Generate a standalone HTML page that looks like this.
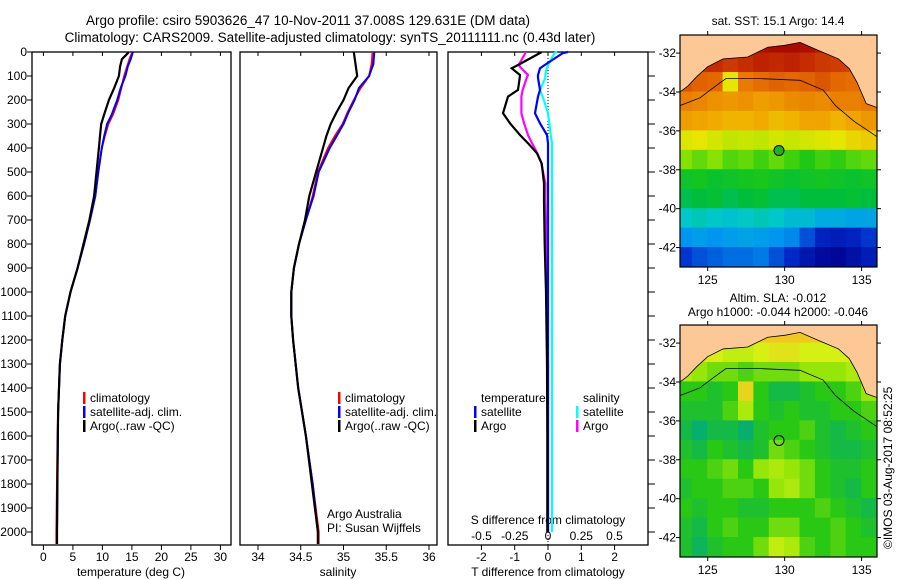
<!DOCTYPE html>
<html><head><meta charset="utf-8"><style>
body{margin:0;background:#fff}
svg{display:block;font-family:"Liberation Sans",sans-serif}
text{font-size:12px;fill:#000}
</style></head><body>
<svg id="fig" width="900" height="580" viewBox="0 0 900 580">
<text x="308" y="25" text-anchor="middle" style="font-size:13.5px">Argo profile: csiro 5903626_47 10-Nov-2011 37.008S 129.631E (DM data)</text>
<text x="330" y="42" text-anchor="middle" style="font-size:13.5px">Climatology: CARS2009. Satellite-adjusted climatology: synTS_20111111.nc (0.43d later)</text>
<text x="778" y="25" text-anchor="middle">sat. SST: 15.1  Argo: 14.4</text>
<text x="778" y="302" text-anchor="middle">Altim. SLA: -0.012</text>
<text x="778" y="316" text-anchor="middle">Argo h1000: -0.044 h2000: -0.046</text>
<text transform="translate(892,549) rotate(-90)">©IMOS 03-Aug-2017 08:52:25</text>
<g id="g"></g>
</svg>
<script>
// ---- data ----
const depthT = [0,5,30,60,100,150,200,260,300,350,400,500,600,700,800,900,1000,1100,1200,1300,1500,1700,2000,2050];
const tempClim = [15.0,15.0,14.6,14.2,13.7,13.2,12.7,11.8,11.0,10.4,9.9,9.3,8.8,7.9,6.9,5.8,4.6,3.7,3.2,2.8,2.5,2.35,2.2,2.2];
const tempSat  = [15.2,15.1,14.8,14.3,13.9,13.1,12.5,11.6,10.8,10.3,9.9,9.3,8.8,7.9,6.9,5.8,4.6,3.7,3.2,2.8,2.5,2.4,2.3,2.3];
const tempArgo = [14.4,14.3,13.3,13.0,12.8,12.0,11.1,10.3,9.8,9.6,9.4,9.0,8.6,7.8,6.8,5.8,4.6,3.7,3.2,2.8,2.5,2.4,2.3,2.3];
const depthS = [0,50,100,150,200,250,300,350,400,500,600,700,800,900,1000,1100,1200,1400,1600,1800,2000,2050];
const salClim = [35.34,35.33,35.30,35.20,35.12,35.05,34.99,34.90,34.82,34.70,34.64,34.56,34.48,34.42,34.39,34.39,34.41,34.47,34.56,34.64,34.71,34.71];
const salSat  = [35.36,35.35,35.30,35.18,35.13,35.06,35.00,34.92,34.84,34.71,34.65,34.56,34.48,34.42,34.39,34.39,34.41,34.47,34.56,34.64,34.70,34.70];
const salArgo = [35.12,35.14,35.16,35.06,35.00,34.92,34.85,34.80,34.76,34.68,34.60,34.55,34.48,34.42,34.39,34.39,34.41,34.47,34.56,34.63,34.70,34.70];
const depthD = [0,4,54,68,96,108,158,186,255,297,346,380,422,464,547,616,800,1000,1300,1600,2000];
const dTArgo = [-0.3,-0.24,-0.9,-1.09,-0.84,-0.85,-0.9,-1.2,-1.35,-1.14,-0.84,-0.6,-0.33,-0.19,-0.12,-0.12,-0.1,-0.06,-0.03,-0.02,-0.02];
const dTSat  = [0.6,0.45,-0.1,-0.24,-0.3,-0.3,-0.24,-0.3,-0.39,-0.24,-0.03,0,0,0,0,0,0,0,0,0,0];
const dSArgo = [-0.17,-0.17,-0.22,-0.2,-0.15,-0.16,-0.19,-0.2,-0.2,-0.18,-0.15,-0.12,-0.08,-0.05,-0.02,-0.02,-0.01,-0.01,0,0,0];
const dSSat  = [0.07,0.05,0.0,-0.01,-0.02,-0.02,-0.06,-0.04,0,0.01,0.02,0.03,0.03,0.03,0.03,0.03,0.03,0.03,0.03,0.03,0.03];
const depthTicks = [0,100,200,300,400,500,600,700,800,900,1000,1100,1200,1300,1400,1500,1600,1700,1800,1900,2000];
const tempTicks = [0,5,10,15,20,25,30];
const salTicks = [34,34.5,35,35.5,36];
const tdTicks = [-2,-1,0,1,2];
const sdTicks = [-0.5,-0.25,0,0.25,0.5];
const latTicks = [-32,-34,-36,-38,-40,-42];
const lonTicks = [125,130,135];
// SST grid: rows lat -31..-43 (1 deg), cols lon 123..136
const sstGrid = [
[19,19,19,19,19,19.2,19.3,19.4,19.2,19,19,18.8,18.8],
[18.4,18.5,18.6,18.4,18.6,18.8,18.7,18.8,18.6,18.4,18.3,18.2,18.2],
[17.9,17.7,17.6,15.8,17.3,17.5,17.7,17.6,17.7,17.9,17.6,17.5,17.5],
[17.2,17.1,16.9,16.8,16.9,16.7,16.8,17.0,17.1,17.0,17.2,17.2,17.3],
[16.7,16.6,16.5,16.4,16.4,16.5,16.3,16.4,16.6,16.6,16.4,16.6,16.8],
[15.7,15.8,15.6,15.4,15.5,15.4,15.6,15.5,15.6,15.7,15.8,16.0,16.1],
[14.9,14.7,14.9,14.6,14.7,14.5,14.7,14.5,14.3,14.5,14.4,14.6,14.7],
[14.0,14.1,13.9,14.0,14.1,14.2,14.0,13.9,14.0,14.1,14.0,13.9,14.0],
[13.6,13.7,13.8,13.6,13.7,13.8,13.6,13.6,13.7,13.7,13.7,13.8,13.7],
[13.0,13.1,13.0,12.9,13.0,13.1,13.0,12.8,12.8,12.6,12.6,12.5,12.5],
[12.3,12.4,12.3,12.4,12.5,12.4,12.3,12.2,11.8,11.4,11.3,11.4,11.6],
[11.6,11.8,11.9,12.0,12.0,12.1,11.8,11.5,11.2,11.0,10.9,11.1,11.3]];
// SLA grid (m)
const slaGrid = [
[0.1,0.1,0.1,0.1,0.1,0.1,0.1,0.1,0.1,0.1,0.1,0.1,0.1],
[0.06,0.07,0.06,0.05,0.05,0.06,0.07,0.07,0.06,0.06,0.06,0.06,0.06],
[0.04,0.03,0.02,0.02,0.01,0.02,0.02,0.02,0.03,0.03,0.03,0.04,0.05],
[0.0,0.0,-0.01,0.0,0.08,0.0,-0.02,-0.02,-0.01,0.0,0.0,0.01,0.03],
[-0.01,-0.01,-0.01,0.01,0.04,0.0,-0.01,0.0,-0.01,-0.01,0.0,0.0,0.01],
[-0.02,-0.04,-0.02,-0.02,-0.04,-0.01,0.0,0.0,0.01,-0.01,-0.02,-0.01,0.0],
[-0.01,-0.02,0.0,-0.01,-0.02,-0.01,0.02,0.01,0.0,-0.01,-0.02,-0.02,-0.01],
[0.0,0.0,0.01,0.02,0.0,0.03,0.04,0.03,0.02,0.0,-0.01,-0.01,0.0],
[-0.01,0.0,0.0,0.01,0.01,0.0,0.03,0.04,0.02,0.0,-0.01,-0.02,0.0],
[0.0,-0.01,0.0,0.0,-0.01,-0.01,0.0,0.0,0.0,0.01,0.0,-0.01,-0.02],
[-0.01,-0.02,0.0,0.01,0.0,0.0,0.02,0.02,0.0,0.0,0.01,0.0,-0.01],
[-0.01,-0.03,-0.01,0.0,0.0,0.02,0.05,0.04,0.01,0.0,0.01,0.0,0.0]];
const coast = [[123.2,-34.0],[123.7,-33.7],[124.3,-33.2],[125,-32.7],[126,-32.3],[127.6,-32.2],[128.9,-31.7],[130,-31.6],[131,-31.45],[132.3,-31.9],[133.5,-32.3],[134.2,-32.8],[134.7,-33.5],[135.3,-34.6],[136,-34.8]];
const contour = [[123.2,-34.7],[124.5,-34.3],[125.5,-33.7],[126.2,-33.3],[128,-33.3],[131,-33.4],[132.5,-33.9],[133.3,-34.7],[134.5,-35.5],[136,-36.3]];
const argoPos = [129.631,-37.008];

// ---- drawing ----
const NS='http://www.w3.org/2000/svg';
const G=document.getElementById('g');
function mk(tag,attrs,parent){const e=document.createElementNS(NS,tag);for(const k in attrs)e.setAttribute(k,attrs[k]);(parent||G).appendChild(e);return e;}
const Y0=52, PY=0.24;
const yD=d=>Y0+d*PY;
const xT=v=>43.4+v*5.9;
const xS=v=>258+(v-34)*85.5;
const xTD=v=>548+v*33.3;
const xSD=v=>548+v*133;
function line(xs,ds,fx,color,w,name){
  const pts=xs.map((v,i)=>fx(v).toFixed(1)+','+yD(ds[i]).toFixed(1)).join(' ');
  const p=mk('polyline',{points:pts,fill:'none',stroke:color,'stroke-width':w,'stroke-linejoin':'miter'});
  
  
}
function panel(x,w,name){
  const r=mk('rect',{x:x,y:Y0,width:w,height:493,fill:'none',stroke:'#000','stroke-width':1.3});
  
  
}
function txt(x,y,s,anchor,name){
  const t=mk('text',{x:x,y:y,'text-anchor':anchor||'start'});t.textContent=s;
  
  
  return t;
}
panel(32,199,'temperature-panel');panel(240,197,'salinity-panel');panel(448,200,'difference-panel');
depthTicks.forEach(d=>{
  mk('line',{x1:27,x2:32,y1:yD(d),y2:yD(d),stroke:'#000'});
  mk('line',{x1:648,x2:655,y1:yD(d),y2:yD(d),stroke:'#000'});
  txt(27,yD(d)+4,String(d),'end','depth-tick-label');
});
tempTicks.forEach(v=>{mk('line',{x1:xT(v),x2:xT(v),y1:545,y2:550,stroke:'#000'});mk('line',{x1:xT(v),x2:xT(v),y1:52,y2:56,stroke:'#000'});txt(xT(v),561,String(v),'middle','temp-tick-label');});
salTicks.forEach(v=>{mk('line',{x1:xS(v),x2:xS(v),y1:545,y2:550,stroke:'#000'});mk('line',{x1:xS(v),x2:xS(v),y1:52,y2:56,stroke:'#000'});txt(xS(v),561,String(v),'middle','sal-tick-label');});
tdTicks.forEach(v=>{mk('line',{x1:xTD(v),x2:xTD(v),y1:545,y2:550,stroke:'#000'});mk('line',{x1:xTD(v),x2:xTD(v),y1:52,y2:56,stroke:'#000'});txt(xTD(v),561,String(v),'middle','tdiff-tick-label');});
sdTicks.forEach(v=>{txt(xSD(v),540,String(v),'middle','sdiff-tick-label');});
txt(131,576,'temperature (deg C)','middle','temperature-axis-title');
txt(338,576,'salinity','middle','salinity-axis-title');
txt(548,576,'T difference from climatology','middle','tdiff-axis-title');
txt(548,524,'S difference from climatology','middle','sdiff-axis-title');
mk('line',{x1:548,x2:548,y1:52,y2:545,stroke:'#000','stroke-dasharray':'1,2'});
line(tempClim,depthT,xT,'#f00',2,'temp-climatology-line');
line(tempSat,depthT,xT,'#00f',2,'temp-satellite-line');
line(tempArgo,depthT,xT,'#000',2.2,'temp-argo-line');
line(salClim,depthS,xS,'#f00',2,'sal-climatology-line');
line(salSat,depthS,xS,'#00f',2,'sal-satellite-line');
line(salArgo,depthS,xS,'#000',2.2,'sal-argo-line');
line(dSSat,depthD,xSD,'#0ff',2.2,'sdiff-satellite-line');
line(dSArgo,depthD,xSD,'#f0f',2.2,'sdiff-argo-line');
line(dTSat,depthD,xTD,'#00f',2.2,'tdiff-satellite-line');
line(dTArgo,depthD,xTD,'#000',2.2,'tdiff-argo-line');
function leg(x,y,c,s,name){mk('rect',{x:x,y:y-10,width:2.5,height:12,fill:c});txt(x+7,y,s,'start',name);}
leg(83,402,'#f00','climatology','legend-climatology');
leg(83,416,'#00f','satellite-adj. clim.','legend-satellite');
leg(83,430,'#000','Argo(..raw -QC)','legend-argo');
leg(338,402,'#f00','climatology','legend2-climatology');
leg(338,416,'#00f','satellite-adj. clim.','legend2-satellite');
leg(338,430,'#000','Argo(..raw -QC)','legend2-argo');
txt(481,402,'temperature','start','legend-temperature-heading');
txt(583,402,'salinity','start','legend-salinity-heading');
leg(474,416,'#00f','satellite','legend-tdiff-satellite');
leg(474,430,'#000','Argo','legend-tdiff-argo');
leg(576,416,'#0ff','satellite','legend-sdiff-satellite');
leg(576,430,'#f0f','Argo','legend-sdiff-argo');
txt(327,518,'Argo Australia','start','credit-line-1');
txt(327,532,'PI: Susan Wijffels','start','credit-line-2');

function lerpC(stops,v){
  if(v<=stops[0][0])return 'rgb('+stops[0][1].join(',')+')';
  for(let i=1;i<stops.length;i++){if(v<=stops[i][0]){const a=stops[i-1],b=stops[i],t=(v-a[0])/(b[0]-a[0]);return 'rgb('+a[1].map((c,k)=>Math.round(c+(b[1][k]-c)*t)).join(',')+')';}}
  return 'rgb('+stops[stops.length-1][1].join(',')+')';
}
const sstStops=[[10.8,[0,0,140]],[11.5,[0,40,200]],[12.3,[0,150,240]],[13,[0,200,200]],[13.7,[0,190,60]],[14.3,[30,200,20]],[15,[150,230,0]],[15.8,[230,230,0]],[16.5,[240,170,0]],[17.5,[230,110,0]],[18.5,[200,50,0]],[19.3,[170,10,0]]];
const slaStops=[[-0.05,[0,170,130]],[-0.02,[20,185,70]],[0,[40,200,20]],[0.03,[150,230,10]],[0.06,[215,240,20]],[0.09,[240,200,30]]];
function map(top,grid,stops,name){
  const L=680,W=197,H=232,lon0=123.2,lon1=136,lat0=-31.07,lat1=-43.0;
  const fx=lo=>L+(lo-lon0)/(lon1-lon0)*W, fy=la=>top+(la-lat0)/(lat1-lat0)*H;
  const g=mk('g',{});
  
  
  mk('clipPath',{id:'c'+top},g);
  mk('rect',{x:L,y:top,width:W,height:H},g.lastChild);
  const cg=mk('g',{'clip-path':'url(#c'+top+')'},g);
  grid.forEach((row,r)=>row.forEach((v,c)=>{
    const cell=mk('rect',{x:fx(123+c)-0.5,y:fy(-31-r)-0.5,width:fx(124)-fx(123)+1,height:fy(-32)-fy(-31)+1,fill:lerpC(stops,v)},cg);
    
    
  }));
  const land=coast.map(p=>fx(p[0])+','+fy(p[1])).join(' ')+' '+fx(137)+','+fy(-34.8)+' '+fx(137)+','+fy(-30)+' '+fx(122)+','+fy(-30)+' '+fx(122)+','+fy(-34);
  mk('polygon',{points:land,fill:'#fcc896',stroke:'#000','stroke-width':0.8},cg);
  mk('polyline',{points:contour.map(p=>fx(p[0])+','+fy(p[1])).join(' '),fill:'none',stroke:'#000','stroke-width':0.8},cg);
  const fill=top<100?'#20b020':'none';
  const m=mk('circle',{cx:fx(argoPos[0]),cy:fy(argoPos[1]),r:5,fill:fill,stroke:'#000','stroke-width':1},g);
  
  
  mk('rect',{x:L,y:top,width:W,height:H,fill:'none',stroke:'#000','stroke-width':1.2},g);
  latTicks.forEach(la=>{mk('line',{x1:L-4,x2:L,y1:fy(la),y2:fy(la),stroke:'#000'},g);mk('line',{x1:L+W,x2:L+W+4,y1:fy(la),y2:fy(la),stroke:'#000'},g);txt(L-4,fy(la)+4,String(la),'end','map-lat-label');});
  lonTicks.forEach(lo=>{mk('line',{x1:fx(lo),x2:fx(lo),y1:top-4,y2:top,stroke:'#000'},g);mk('line',{x1:fx(lo),x2:fx(lo),y1:top+H,y2:top+H+4,stroke:'#000'},g);txt(fx(lo),top+H+17,String(lo),'middle','map-lon-label');});
}
map(35,sstGrid,sstStops,'sst-map');
map(325,slaGrid,slaStops,'sla-map');
</script>
</body></html>
